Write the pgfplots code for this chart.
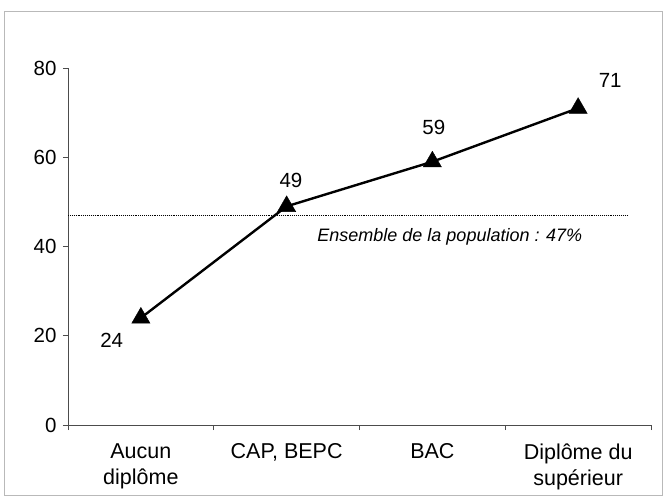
\documentclass[border=0pt]{standalone}
\usepackage{fontspec}
\setmainfont{Liberation Sans}
\usepackage{pgfplots}
\pgfplotsset{compat=1.18}
\begin{document}
\begin{tikzpicture}[x=1pt,y=1pt]
\useasboundingbox (-68,-71) rectangle (598,425);
\draw[gray!55, line width=0.8pt] (-64,-70) rectangle (594,414);
\begin{axis}[
  at={(0pt,0pt)}, anchor=south west,
  scale only axis, width=583pt, height=357pt,
  xmin=0, xmax=4, ymin=0, ymax=80,
  axis x line*=bottom, axis y line*=left,
  axis line style={black!70, line width=0.6pt, -},
  xtick={0.5,1.5,2.5,3.5},
  xticklabels={{Aucun\\diplôme},{CAP, BEPC},{BAC},{Diplôme du\\supérieur}},
  minor xtick={0,1,2,3,4},
  major x tick style={draw=none},
  minor x tick style={black!70, line width=0.6pt},
  ytick={0,20,40,60,80},
  y tick style={black!70, line width=0.6pt},
  tick align=outside, major tick length=5pt, minor tick length=5pt,
  x tick label style={align=center, font=\fontsize{21.5}{26}\selectfont, yshift=-10pt},
  y tick label style={font=\fontsize{20.5}{23}\selectfont, xshift=-3pt},
  /pgf/number format/assume math mode=true,
  clip=false,
]
\addplot[black, densely dotted, line width=0.9pt] coordinates {(0,47) (3.84,47)};
\addplot[black, line width=2.4pt, mark=triangle*, mark size=10.5pt,
  mark options={solid, line width=0.4pt}] coordinates {(0.5,24) (1.5,49) (2.5,59) (3.5,71)};
\node[font=\fontsize{20.5}{23}\selectfont] at (axis cs:0.30,19.0) {24};
\node[font=\fontsize{20.5}{23}\selectfont] at (axis cs:1.53,54.9) {49};
\node[font=\fontsize{20.5}{23}\selectfont] at (axis cs:2.51,66.6) {59};
\node[font=\fontsize{20.5}{23}\selectfont] at (axis cs:3.72,77.3) {71};
\node[font=\fontsize{18}{21}\selectfont\itshape] at (axis cs:2.62,42.1) {Ensemble de la population : 47\%};
\end{axis}
\end{tikzpicture}
\end{document}
